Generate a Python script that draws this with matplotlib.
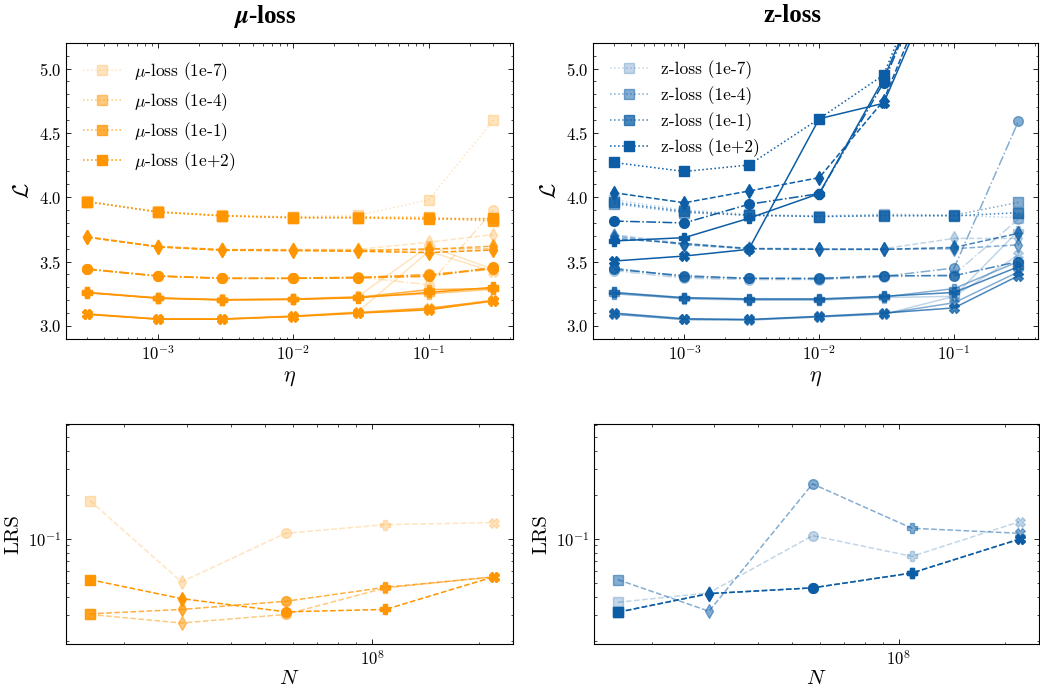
import matplotlib
matplotlib.use('Agg')
import matplotlib.pyplot as plt
from matplotlib.lines import Line2D
from matplotlib.ticker import AutoMinorLocator

# learning rates and model sizes
eta = [3e-4, 1e-3, 3e-3, 1e-2, 3e-2, 1e-1, 3e-1]
n_params = [1.6e7, 2.9e7, 5.7e7, 1.09e8, 2.2e8]
coefs = ['1e-7', '1e-4', '1e-1', '1e+2']

# final loss, one row per model size (smallest first)
mu_loss_1e7 = [[3.968, 3.890, 3.860, 3.850, 3.860, 3.980, 4.600],
               [3.694, 3.620, 3.595, 3.595, 3.595, 3.650, 3.710],
               [3.445, 3.390, 3.373, 3.373, 3.380, 3.320, 3.900],
               [3.262, 3.220, 3.206, 3.210, 3.230, 3.620, 3.440],
               [3.095, 3.056, 3.056, 3.078, 3.110, 3.580, 3.420]]
mu_loss_1e4 = [[3.966, 3.887, 3.857, 3.845, 3.848, 3.845, 3.825],
               [3.692, 3.617, 3.592, 3.590, 3.588, 3.600, 3.600],
               [3.443, 3.389, 3.371, 3.371, 3.378, 3.395, 3.440],
               [3.260, 3.217, 3.204, 3.208, 3.225, 3.250, 3.285],
               [3.093, 3.054, 3.054, 3.076, 3.105, 3.140, 3.190]]
mu_loss_1e1 = [[3.965, 3.885, 3.855, 3.842, 3.842, 3.835, 3.815],
               [3.690, 3.615, 3.590, 3.588, 3.585, 3.595, 3.620],
               [3.442, 3.387, 3.370, 3.370, 3.376, 3.400, 3.445],
               [3.260, 3.216, 3.203, 3.207, 3.222, 3.282, 3.290],
               [3.092, 3.053, 3.053, 3.075, 3.103, 3.135, 3.200]]
mu_loss_1e2 = [[3.965, 3.885, 3.855, 3.840, 3.840, 3.830, 3.835],
               [3.690, 3.614, 3.588, 3.585, 3.580, 3.570, 3.590],
               [3.440, 3.387, 3.369, 3.369, 3.374, 3.385, 3.455],
               [3.258, 3.215, 3.202, 3.206, 3.219, 3.260, 3.300],
               [3.090, 3.052, 3.052, 3.073, 3.099, 3.125, 3.195]]

z_loss_1e7 = [[3.980, 3.900, 3.870, 3.855, 3.870, 3.860, 3.840],
              [3.710, 3.640, 3.605, 3.600, 3.600, 3.680, 3.680],
              [3.430, 3.370, 3.360, 3.360, 3.380, 3.400, 3.830],
              [3.260, 3.210, 3.200, 3.200, 3.220, 3.230, 3.740],
              [3.095, 3.050, 3.050, 3.070, 3.090, 3.230, 3.550]]
z_loss_1e4 = [[3.950, 3.880, 3.860, 3.850, 3.860, 3.860, 3.960],
              [3.700, 3.630, 3.600, 3.595, 3.595, 3.600, 3.630],
              [3.450, 3.380, 3.370, 3.365, 3.385, 3.450, 4.590],
              [3.250, 3.215, 3.205, 3.205, 3.225, 3.290, 3.500],
              [3.090, 3.050, 3.045, 3.070, 3.095, 3.180, 3.420]]
z_loss_1e1 = [[3.960, 3.890, 3.860, 3.850, 3.855, 3.855, 3.880],
              [3.680, 3.640, 3.600, 3.595, 3.595, 3.610, 3.720],
              [3.440, 3.390, 3.370, 3.370, 3.390, 3.390, 3.500],
              [3.260, 3.220, 3.210, 3.210, 3.230, 3.260, 3.460],
              [3.100, 3.056, 3.050, 3.075, 3.100, 3.140, 3.390]]
z_loss_1e2 = [[4.270, 4.200, 4.250, 4.610, 4.950, 6.300, 7.000],
              [4.035, 3.957, 4.048, 4.152, 4.750, 6.100, 6.800],
              [3.815, 3.800, 3.945, 4.028, 4.890, 6.200, 6.900],
              [3.660, 3.686, 3.836, 4.028, 4.920, 6.200, 6.900],
              [3.504, 3.543, 3.595, 4.610, 4.730, 6.000, 6.700]]

# learning rate sensitivity per model size
lrs_mu = [[0.183, 0.0505, 0.109, 0.125, 0.129],
          [0.0302, 0.0264, 0.0302, 0.046, 0.0547],
          [0.0305, 0.0327, 0.0372, 0.0464, 0.0547],
          [0.0524, 0.0388, 0.0315, 0.0327, 0.0547]]
lrs_z = [[0.0366, 0.0425, 0.105, 0.0757, 0.131],
         [0.0524, 0.0318, 0.238, 0.118, 0.109],
         [0.0313, 0.042, 0.046, 0.0582, 0.0995],
         [0.0313, 0.042, 0.046, 0.0582, 0.0995]]

markers = ['s', 'd', 'o', 'P', 'X']
styles = [':', '--', '-.', '-', '-']
alphas = [0.25, 0.5, 0.75, 1.0]

plt.rcParams.update({
    'font.family': 'serif',
    'font.serif': ['cmr10'],
    'mathtext.fontset': 'cm',
    'axes.formatter.use_mathtext': True,
    'axes.unicode_minus': True,
    'font.size': 12,
    'axes.linewidth': 0.8,
    'xtick.direction': 'in', 'ytick.direction': 'in',
    'xtick.top': True, 'ytick.right': True,
    'xtick.minor.visible': True, 'ytick.minor.visible': True,
    'xtick.major.size': 3.5, 'ytick.major.size': 3.5,
    'xtick.minor.size': 1.8, 'ytick.minor.size': 1.8,
    'xtick.major.width': 0.6, 'ytick.major.width': 0.6,
    'xtick.minor.width': 0.5, 'ytick.minor.width': 0.5,
    'xtick.labelsize': 12, 'ytick.labelsize': 12,
})

fig = plt.figure(figsize=(10.4, 6.9), dpi=100)
ax_tl = fig.add_axes([0.0635, 0.509, 0.430, 0.429])
ax_tr = fig.add_axes([0.5702, 0.509, 0.428, 0.429])
ax_bl = fig.add_axes([0.0635, 0.066, 0.430, 0.319])
ax_br = fig.add_axes([0.5712, 0.066, 0.428, 0.319])

panels = [
    (ax_tl, ax_bl, '#FF9500', r'$\mu$-loss', [mu_loss_1e7, mu_loss_1e4, mu_loss_1e1, mu_loss_1e2], lrs_mu),
    (ax_tr, ax_br, '#0C5DA5', 'z-loss', [z_loss_1e7, z_loss_1e4, z_loss_1e1, z_loss_1e2], lrs_z),
]

for ax, axb, color, name, losses, lrs in panels:
    for k, loss in enumerate(losses):
        for i, row in enumerate(loss):
            ax.plot(eta, row, ls=styles[i], marker=markers[i], color=color,
                    alpha=alphas[k], lw=1.1, ms=7)
    ax.set_xscale('log')
    ax.set_xlim(2.1e-4, 0.42)
    ax.set_ylim(2.9, 5.2)
    ax.yaxis.set_minor_locator(AutoMinorLocator(5))
    ax.set_xlabel(r'$\eta$', fontsize=16)
    ax.set_ylabel(r'$\mathcal{L}$', fontsize=16)
    handles = [Line2D([], [], ls=':', marker='s', color=color, alpha=alphas[k], ms=7,
                      lw=1.1, label=f'{name} ({c})') for k, c in enumerate(coefs)]
    ax.legend(handles=handles, loc='upper left', frameon=False, fontsize=12.5,
              handlelength=2.2, handletextpad=0.7, labelspacing=0.43,
              borderaxespad=0.6)

    for k, vals in enumerate(lrs):
        axb.plot(n_params, vals, ls='--', color=color, alpha=alphas[k], lw=1.1)
        for i in range(len(n_params)):
            axb.plot(n_params[i], vals[i], marker=markers[i], color=color,
                     alpha=alphas[k], ms=7, ls='none')
    axb.set_xscale('log')
    axb.set_yscale('log')
    axb.set_xlim(1.37e7, 2.5e8)
    axb.set_ylim(0.0188, 0.61)
    axb.set_xlabel(r'$N$', fontsize=15, labelpad=1)
    axb.set_ylabel('LRS', fontsize=15)

fig.text(265 / 1040, 1 - 16 / 690, r'$\boldsymbol{\mu}$-loss', ha='center', va='center',
         fontsize=18, fontweight='bold', family='Liberation Serif')
fig.text(792 / 1040, 1 - 16 / 690, 'z-loss', ha='center', va='center',
         fontsize=18, fontweight='bold', family='Liberation Serif')

fig.savefig('out.png', dpi=100)
